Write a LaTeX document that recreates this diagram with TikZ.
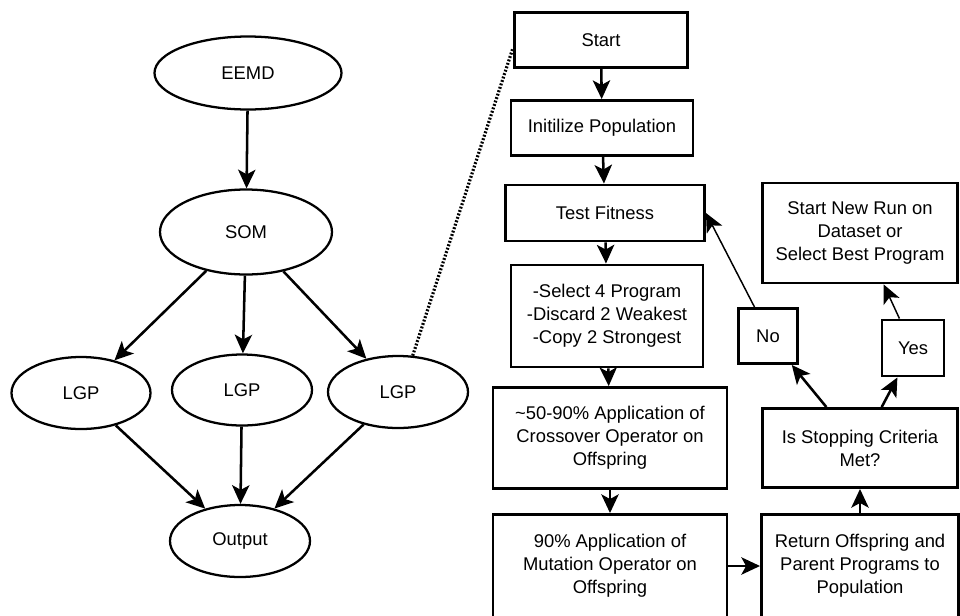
\documentclass[tikz,border=0pt]{standalone}
\usepackage{fontspec}
\setmainfont{Liberation Sans}
\usetikzlibrary{arrows.meta,shapes.geometric}

\begin{document}
\begin{tikzpicture}[x=0.75pt, y=-0.75pt,
    font=\fontsize{13.8}{17.25}\selectfont,
    oval/.style n args={2}{ellipse, draw, line width=1.7pt, inner sep=0pt,
        minimum width=#1*0.75pt, minimum height=#2*0.75pt},
    blk/.style n args={2}{rectangle, draw, line width=2.2pt, inner sep=0pt, align=center,
        minimum width=#1*0.75pt, minimum height=#2*0.75pt},
    arr/.style={line width=1.9pt, -{Stealth[length=14pt, width=13pt, inset=3.5pt]}},
    thinarr/.style={line width=1.1pt, -{Stealth[length=14pt, width=13pt, inset=3.5pt]}},
    zoomline/.style={line width=2.4pt, dash pattern=on 1.4pt off 1.3pt}]
    \useasboundingbox (0,0) rectangle (960,615);

    \node[oval={187}{73}] (eemd) at (248,73) {EEMD};
    \node[oval={172}{85}] (som) at (246,232) {SOM};
    \node[oval={139}{72}] (lgpl) at (81,393) {LGP};
    \node[oval={140}{71}] (lgpm) at (242,390) {LGP};
    \node[oval={140}{72}] (lgpr) at (398,392) {LGP};
    \node[oval={140}{72}] (output) at (240,541) {Output};

    \draw[arr] (eemd) -- (som);
    \draw[arr] (som) -- (lgpl);
    \draw[arr] (som) -- (lgpm);
    \draw[arr] (som) -- (lgpr);
    \draw[arr] (lgpl) -- (output);
    \draw[arr] (lgpm) -- (output);
    \draw[arr] (lgpr) -- (output);

    \node[blk={173}{55}] (start) at (601,40) {Start};
    \node[blk={182}{55}] (init) at (602,128) {Initilize Population};
    \node[blk={199}{56}] (test) at (605,213) {Test Fitness};
    \node[blk={192}{102}] (select) at (607,316) {-Select 4 Program\\-Discard 2 Weakest\\-Copy 2 Strongest};
    \node[blk={234}{101}] (cross) at (610,438) {\textasciitilde50-90\% Application of\\Crossover Operator on\\Offspring};
    \node[blk={234}{103}] (mut) at (610,566) {90\% Application of\\Mutation Operator on\\Offspring};
    \node[blk={197}{103}] (ret) at (860,566) {Return Offspring and\\Parent Programs to\\Population};
    \node[blk={195}{79}] (stop) at (860,448) {Is Stopping Criteria\\Met?};
    \node[blk={59}{55}] (no) at (768,336) {No};
    \node[blk={62}{56}] (yes) at (913,348) {Yes};
    \node[blk={195}{100}] (newrun) at (860,233) {Start New Run on\\Dataset or\\Select Best Program};

    \draw[zoomline] (lgpr.68) -- (start.185);
    \draw[arr] (start) -- (init);
    \draw[arr] (init) -- (test);
    \draw[arr] (test) -- (select);
    \draw[arr] (select) -- (cross);
    \draw[arr] (cross) -- (mut);
    \draw[arr] (mut) -- (ret);
    \draw[arr] (ret) -- (stop);
    \draw[arr] (stop) -- (no);
    \draw[arr] (stop) -- (yes);
    \draw[thinarr] (no.115) -- (test.east);
    \draw[thinarr] (yes) -- (newrun);
\end{tikzpicture}
\end{document}
